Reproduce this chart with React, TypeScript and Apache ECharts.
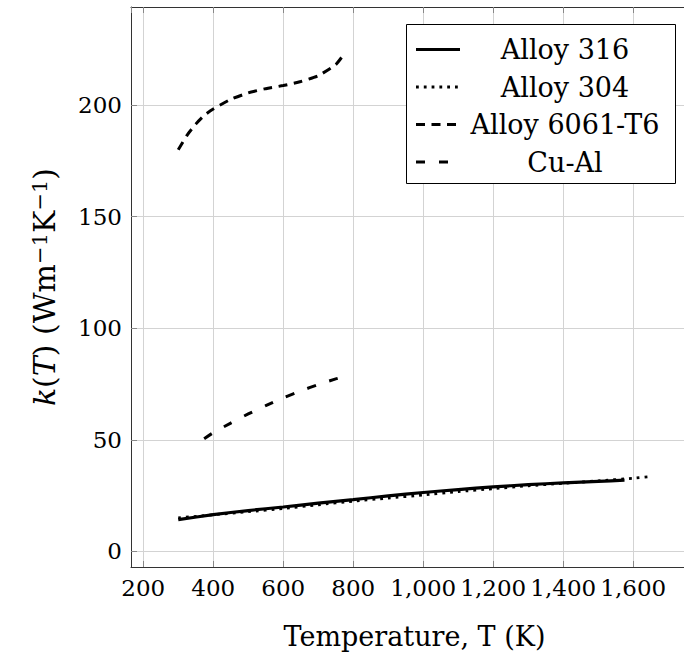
import React, { useEffect, useRef } from "react";
import * as echarts from "echarts";

// ---- data ----
const temps316 = [300, 400, 500, 600, 700, 800, 900, 1000, 1100, 1200, 1300, 1400, 1500, 1575];
const k316 = [14.2, 16.5, 18.3, 19.9, 21.6, 23.2, 24.9, 26.4, 27.7, 28.9, 29.9, 30.7, 31.4, 31.9];

const temps304 = [300, 400, 500, 600, 700, 800, 900, 1000, 1100, 1200, 1300, 1400, 1500, 1600, 1650];
const k304 = [15.0, 16.4, 17.8, 19.2, 20.9, 22.5, 23.9, 25.3, 26.8, 28.1, 29.4, 30.5, 31.6, 32.8, 33.5];

const temps6061 = [300, 325, 350, 375, 400, 450, 500, 550, 600, 650, 700, 750, 775];
const k6061 = [180, 186.5, 191.5, 195.5, 198.3, 202.6, 205.5, 207.4, 208.8, 210.6, 213.2, 218.2, 223.2];

const tempsCuAl = [374, 400, 450, 500, 550, 600, 650, 700, 750, 773];
const kCuAl = [50.5, 53.2, 57.5, 61.6, 65.3, 68.8, 71.9, 74.8, 77.3, 78.3];

const seriesNames = ["Alloy 316", "Alloy 304", "Alloy 6061-T6", "Cu-Al"];

const xName = "Temperature, T (K)";
const yName = "{i|k}({i|T}) (Wm{sup|−1}K{sup|−1})";

const FONT = "DejaVu Serif";

const lineStyles = [
  { type: "solid" as any, width: 3.2 },
  { type: [2.8, 5] as any, width: 2.8 },
  { type: [9, 6.5] as any, width: 3 },
  { type: [9, 14] as any, width: 3 },
];

function zip(xs: number[], ys: number[]) {
  return xs.map((x, i) => [x, ys[i]]);
}

export default function App() {
  const ref = useRef<HTMLDivElement>(null);

  useEffect(() => {
    if (!ref.current) return;
    const chart = echarts.init(ref.current, undefined, { renderer: "svg" });

    const xMin = 165;
    const xMax = 1745;
    const yMin = -7;
    const yMax = 244;

    const axisLineColor = "#333";
    const tickColor = "#888";
    const gridColor = "#d3d3d3";

    const baseX = {
      type: "value",
      min: xMin,
      max: xMax,
      splitNumber: 8,
      minInterval: 200,
      maxInterval: 200,
    };
    const baseY = {
      type: "value",
      min: yMin,
      max: yMax,
      splitNumber: 5,
      minInterval: 50,
      maxInterval: 50,
    };

    const datasets = [
      zip(temps316, k316),
      zip(temps304, k304),
      zip(temps6061, k6061),
      zip(tempsCuAl, kCuAl),
    ];

    const legendX = 406.5;
    const legendY = 24.5;
    const legendW = 269;
    const legendH = 159;
    const rowYs = [49.5, 87, 124.5, 162];

    const graphic: any[] = [
      {
        type: "rect",
        z: 100,
        shape: { x: legendX, y: legendY, width: legendW, height: legendH },
        style: { fill: "#fff", stroke: "#000", lineWidth: 1 },
      },
    ];
    seriesNames.forEach((name, i) => {
      const ls = lineStyles[i];
      graphic.push({
        type: "line",
        z: 101,
        shape: { x1: 416, y1: rowYs[i], x2: 460, y2: rowYs[i] },
        style: {
          stroke: "#000",
          lineWidth: ls.width,
          lineDash: ls.type === "solid" ? null : ls.type,
        },
      });
      graphic.push({
        type: "text",
        z: 101,
        x: 565,
        y: rowYs[i],
        style: {
          text: name,
          fontFamily: FONT,
          fontSize: 27,
          fill: "#000",
          align: "center",
          verticalAlign: "middle",
        },
      });
    });

    chart.setOption({
      animation: false,
      backgroundColor: "#fff",
      grid: { left: 131, top: 7, right: 0, bottom: 93, containLabel: false },
      xAxis: [
        {
          ...baseX,
          position: "bottom",
          name: xName,
          nameLocation: "middle",
          nameGap: 56,
          nameTextStyle: { fontFamily: FONT, fontSize: 27, color: "#000", padding: [0, 0, 0, 14] },
          axisLine: { show: true, onZero: false, lineStyle: { color: axisLineColor, width: 1 } },
          axisTick: { show: true, inside: true, length: 6, lineStyle: { color: tickColor } },
          axisLabel: {
            showMinLabel: false,
            showMaxLabel: false,
            margin: 9,
            fontFamily: FONT,
            fontSize: 23,
            color: "#000",
            formatter: (v: number) => v.toLocaleString("en-US"),
          },
          splitLine: { show: true, lineStyle: { color: gridColor, width: 1 } },
        },
        {
          ...baseX,
          position: "top",
          axisLine: { show: true, onZero: false, lineStyle: { color: axisLineColor, width: 1 } },
          axisTick: { show: true, inside: true, length: 6, lineStyle: { color: tickColor } },
          axisLabel: { show: false },
          splitLine: { show: false },
        },
      ],
      yAxis: [
        {
          ...baseY,
          position: "left",
          name: yName,
          nameLocation: "middle",
          nameGap: 72,
          nameTextStyle: {
            fontFamily: FONT,
            fontSize: 30,
            color: "#000",
            rich: {
              i: { fontFamily: FONT, fontSize: 30, fontStyle: "italic", color: "#000" },
              sup: { fontFamily: FONT, fontSize: 21, color: "#000", verticalAlign: "top" },
            },
          },
          axisLine: { show: true, onZero: false, lineStyle: { color: axisLineColor, width: 1 } },
          axisTick: { show: true, inside: true, length: 6, lineStyle: { color: tickColor } },
          axisLabel: {
            showMinLabel: false,
            showMaxLabel: false,
            margin: 9,
            fontFamily: FONT,
            fontSize: 23,
            color: "#000",
          },
          splitLine: { show: true, lineStyle: { color: gridColor, width: 1 } },
        },
      ],
      legend: { show: false },
      series: seriesNames.map((name, i) => ({
        name,
        type: "line",
        xAxisIndex: 0,
        yAxisIndex: 0,
        data: datasets[i],
        showSymbol: false,
        smooth: 0.2,
        lineStyle: { color: "#000", width: lineStyles[i].width, type: lineStyles[i].type, cap: "butt" },
        itemStyle: { color: "#000" },
        z: 5,
      })),
      graphic,
    });

    return () => chart.dispose();
  }, []);

  return (
    <div
      ref={ref}
      style={{ position: "fixed", left: 0, top: 0, width: 684, height: 660, background: "#fff" }}
    />
  );
}
